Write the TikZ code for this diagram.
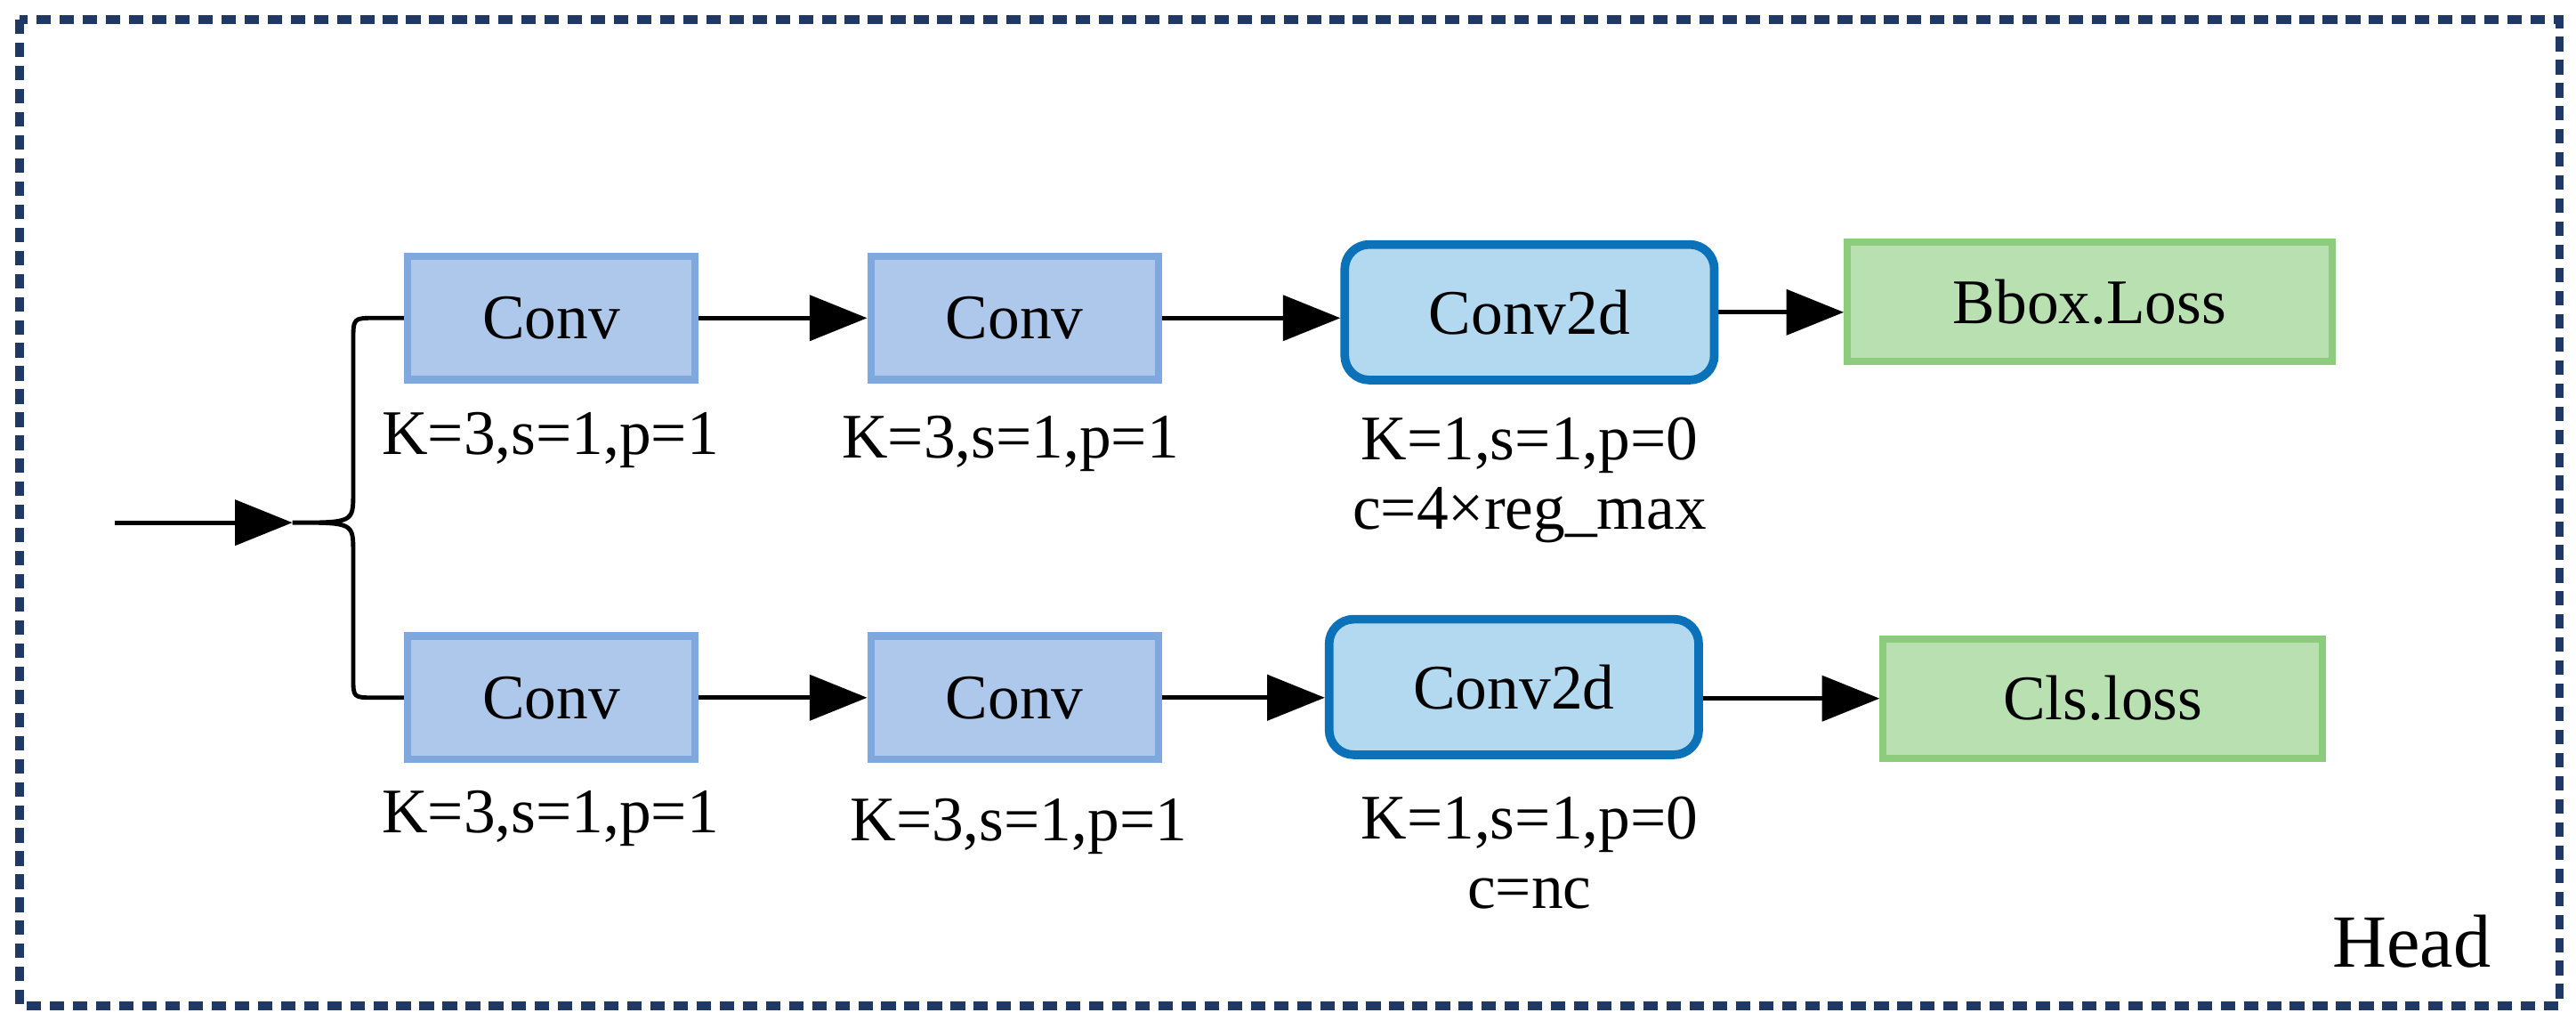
\documentclass[tikz,border=0pt]{standalone}
\usepackage{fontspec}
\setmainfont{Liberation Serif}
\usetikzlibrary{arrows.meta}
\definecolor{navy}{HTML}{1F3864}
\definecolor{convf}{HTML}{ADC8EA}
\definecolor{convd}{HTML}{7FA8DE}
\definecolor{c2f}{HTML}{B3D9F0}
\definecolor{c2d}{HTML}{0B72B9}
\definecolor{gf}{HTML}{B8E0B0}
\definecolor{gd}{HTML}{8CCC7C}
\begin{document}
\begin{tikzpicture}[x=0.02cm,y=-0.02cm,
  conv/.style={draw=convd,fill=convf,line width=2.5pt,minimum width=3.5cm,minimum height=1.5cm,font=\fontsize{22}{26}\selectfont},
  c2/.style={draw=c2d,fill=c2f,line width=3pt,rounded corners=0.3cm,minimum width=4.5cm,minimum height=1.65cm,font=\fontsize{22}{26}\selectfont},
  gr/.style={draw=gd,fill=gf,line width=2.5pt,minimum height=1.45cm,font=\fontsize{22}{26}\selectfont},
  lab/.style={font=\fontsize{22}{26}\selectfont,align=center},
  arr/.style={line width=1.5pt,-{Triangle[length=0.7cm,width=0.55cm]}}]
\useasboundingbox (0,0) rectangle (1568,626);
\draw[navy,line width=3pt,dash pattern=on 5pt off 3pt] (12,12) rectangle (1558,612);
\node[conv] (a1) at (335.5,193.5) {Conv};
\node[conv] (a2) at (617.5,193.5) {Conv};
\node[c2] (a3) at (931,190) {Conv2d};
\node[gr,minimum width=5.9cm] (a4) at (1272,183.5) {Bbox.Loss};
\node[conv] (b1) at (335.5,424.5) {Conv};
\node[conv] (b2) at (617.5,424.5) {Conv};
\node[c2] (b3) at (921.5,418) {Conv2d};
\node[gr,minimum width=5.35cm] (b4) at (1280,425) {Cls.loss};
\node[lab] (la1) at (335,268) {K=3,s=1,p=1};
\node[lab] (la2) at (615,270) {K=3,s=1,p=1};
\node[lab] (la3) at (931,292) {K=1,s=1,p=0\\[-2pt]c=4×reg\_max};
\node[lab] (lb1) at (335,498) {K=3,s=1,p=1};
\node[lab] (lb2) at (620,503) {K=3,s=1,p=1};
\node[lab] (lb3) at (931,519) {K=1,s=1,p=0\\[-2pt]c=nc};
\node[font=\fontsize{26}{30}\selectfont] (h) at (1468,573) {Head};
\coordinate (in) at (70,318);
\coordinate (br) at (178,318);
\draw[arr] (in) -- (br);
\draw[line width=1.5pt] (a1.west) -- (228,193.5) .. controls (215,193.5) .. (215,208) -- (215,300) .. controls (215,318) .. (br)
  .. controls (215,318) .. (215,336) -- (215,412) .. controls (215,424.5) .. (228,424.5) -- (b1.west);
\draw[arr] (a1) -- (a2);
\draw[arr] (a2.east) -- (a3.west|-a2.east);
\draw[arr] (a3.east) -- (a4.west|-a3.east);
\draw[arr] (b1) -- (b2);
\draw[arr] (b2.east) -- (b3.west|-b2.east);
\draw[arr] (b3.east|-b4.west) -- (b4.west);
\end{tikzpicture}
\end{document}
